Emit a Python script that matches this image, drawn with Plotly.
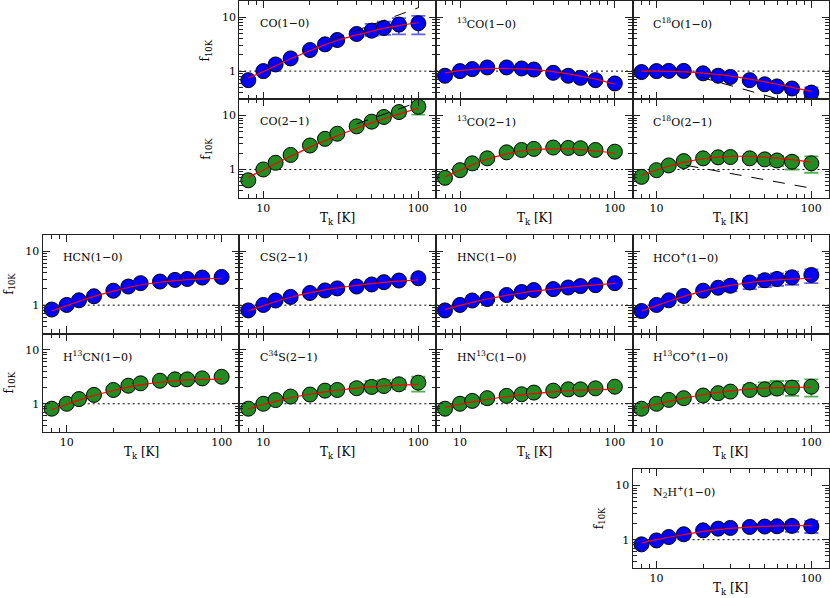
import plotly.graph_objects as go

W, H = 830, 598
T = [8, 10, 12, 15, 20, 25, 30, 40, 50, 60, 75, 100]

# ---- measured points (f_10K) ----
co10 = [0.68, 1.0, 1.33, 1.72, 2.46, 3.14, 3.78, 4.89, 5.63, 6.33, 7.3, 7.73]
co21 = [0.63, 1.0, 1.33, 1.86, 2.78, 3.7, 4.6, 6.3, 7.7, 9.4, 11.6, 14.5]
c13o10 = [0.82, 1.0, 1.09, 1.17, 1.17, 1.12, 1.07, 0.93, 0.82, 0.75, 0.68, 0.59]
c13o21 = [0.70, 0.97, 1.30, 1.61, 2.08, 2.30, 2.41, 2.55, 2.51, 2.48, 2.30, 2.14]
c18o10 = [0.96, 1.0, 1.01, 1.01, 0.91, 0.82, 0.78, 0.68, 0.57, 0.52, 0.475, 0.40]
c18o21 = [0.73, 0.97, 1.19, 1.43, 1.61, 1.68, 1.70, 1.61, 1.54, 1.47, 1.39, 1.30]
hcn10 = [0.83, 1.01, 1.23, 1.46, 1.85, 2.21, 2.55, 2.73, 2.93, 3.05, 3.23, 3.32]
cs21 = [0.80, 1.01, 1.22, 1.42, 1.68, 1.87, 2.04, 2.21, 2.41, 2.66, 2.85, 3.14]
hnc10 = [0.80, 1.01, 1.22, 1.30, 1.54, 1.75, 1.90, 1.98, 2.12, 2.25, 2.34, 2.55]
hcop10 = [0.78, 1.01, 1.23, 1.48, 1.85, 2.10, 2.28, 2.62, 2.89, 3.05, 3.27, 3.61]
h13cn10 = [0.81, 1.0, 1.22, 1.46, 1.80, 2.16, 2.39, 2.67, 2.83, 2.83, 2.95, 3.16]
c34s21 = [0.81, 1.0, 1.17, 1.36, 1.48, 1.75, 1.80, 1.94, 2.05, 2.13, 2.29, 2.46]
hn13c10 = [0.81, 1.0, 1.13, 1.27, 1.40, 1.50, 1.61, 1.75, 1.85, 1.85, 1.93, 2.07]
h13cop10 = [0.81, 1.0, 1.18, 1.27, 1.42, 1.57, 1.68, 1.80, 1.85, 1.91, 1.99, 2.07]
n2hp10 = [0.82, 0.97, 1.12, 1.26, 1.49, 1.60, 1.65, 1.72, 1.75, 1.77, 1.80, 1.77]

# ---- red fit curves ----
co10_fit = [0.75, 0.98, 1.25, 1.70, 2.40, 3.10, 3.70, 4.70, 5.50, 6.20, 7.00, 7.90]
co21_fit = [0.72, 0.98, 1.28, 1.75, 2.60, 3.40, 4.20, 5.80, 7.30, 8.70, 10.6, 13.8]
c13o10_fit = [0.93, 1.02, 1.08, 1.11, 1.12, 1.10, 1.07, 0.98, 0.89, 0.81, 0.71, 0.57]
c13o21_fit = [0.73, 0.97, 1.22, 1.55, 1.95, 2.20, 2.33, 2.42, 2.40, 2.33, 2.20, 2.00]
c18o10_fit = [1.0, 1.0, 0.99, 0.97, 0.92, 0.86, 0.81, 0.71, 0.63, 0.57, 0.50, 0.42]
c18o21_fit = [0.78, 0.98, 1.15, 1.35, 1.58, 1.70, 1.75, 1.75, 1.70, 1.63, 1.52, 1.36]
hcn10_fit = [0.78, 0.98, 1.18, 1.45, 1.82, 2.12, 2.36, 2.65, 2.83, 2.95, 3.06, 3.14]
cs21_fit = [0.78, 0.98, 1.17, 1.40, 1.70, 1.92, 2.08, 2.32, 2.50, 2.63, 2.78, 2.93]
hnc10_fit = [0.83, 0.99, 1.13, 1.30, 1.52, 1.68, 1.81, 1.99, 2.13, 2.24, 2.37, 2.52]
hcop10_fit = [0.78, 0.98, 1.18, 1.45, 1.82, 2.10, 2.32, 2.62, 2.81, 2.93, 3.04, 3.14]
h13cn10_fit = [0.78, 0.98, 1.17, 1.42, 1.76, 2.03, 2.23, 2.50, 2.66, 2.76, 2.83, 2.87]
c34s21_fit = [0.81, 0.97, 1.11, 1.29, 1.50, 1.66, 1.78, 1.95, 2.06, 2.14, 2.22, 2.29]
hn13c10_fit = [0.86, 0.98, 1.08, 1.20, 1.35, 1.46, 1.54, 1.66, 1.74, 1.79, 1.83, 1.85]
h13cop10_fit = [0.83, 0.98, 1.11, 1.27, 1.47, 1.62, 1.73, 1.87, 1.95, 1.99, 2.01, 2.02]
n2hp10_fit = [0.87, 1.0, 1.11, 1.24, 1.42, 1.54, 1.62, 1.71, 1.76, 1.79, 1.81, 1.82]

# ---- error bar bounds (None = not visible) ----
N7 = [None] * 7
co10_lo = N7 + [4.3, 4.5, 4.7, 4.8, 4.8]
co10_hi = N7 + [5.6, 7.5, 8.3, 9.6, 10.6]
co21_lo = N7 + [None, None, 8.1, 9.7, 10.4]
co21_hi = N7 + [None, None, 11.2, 13.5, 18.0]
c18o10_lo = N7 + [None, None, 0.47, 0.42, 0.33]
c18o10_hi = N7 + [None, None, 0.57, 0.53, 0.50]
c18o21_lo = N7 + [1.40, 1.30, 1.16, 1.00, 0.87]
c18o21_hi = N7 + [1.75, 1.70, 1.78, 1.68, 1.75]
hcop10_lo = [None] * 6 + [1.80, 1.98, 2.15, 2.28, 2.38, 2.55]
hcop10_hi = [None] * 6 + [2.85, 3.14, 3.61, 3.87, 4.15, 4.58]
c34s21_lo = N7 + [1.63, 1.68, 1.80, 1.85, 1.68]
c34s21_hi = N7 + [2.32, 2.64, 2.75, 2.83, 3.16]
h13cop10_lo = N7 + [1.57, 1.50, 1.50, 1.40, 1.36]
h13cop10_hi = N7 + [2.23, 2.49, 2.64, 2.64, 2.83]
n2hp10_lo = N7 + [1.54, 1.49, 1.45, 1.39, 1.33]
n2hp10_hi = N7 + [1.93, 1.99, 2.07, 2.13, 2.23]

# ---- dashed model lines ----
co10_dT, co10_dF = [28, 100], [3.9, 15.0]
co21_dT, co21_dF = [40, 100], [7.0, 17.8]
c18o10_dT, c18o10_dF = [14, 62], [1.0, 0.3]
c18o21_dT, c18o21_dF = [15.6, 100], [1.19, 0.45]

# ---- labels ----
lab = {
    "co10": "CO(1\u22120)", "co21": "CO(2\u22121)",
    "c13o10": "<sup>13</sup>CO(1\u22120)", "c13o21": "<sup>13</sup>CO(2\u22121)",
    "c18o10": "C<sup>18</sup>O(1\u22120)", "c18o21": "C<sup>18</sup>O(2\u22121)",
    "hcn10": "HCN(1\u22120)", "cs21": "CS(2\u22121)", "hnc10": "HNC(1\u22120)",
    "hcop10": "HCO<sup>+</sup>(1\u22120)",
    "h13cn10": "H<sup>13</sup>CN(1\u22120)", "c34s21": "C<sup>34</sup>S(2\u22121)",
    "hn13c10": "HN<sup>13</sup>C(1\u22120)", "h13cop10": "H<sup>13</sup>CO<sup>+</sup>(1\u22120)",
    "n2hp10": "N<sub>2</sub>H<sup>+</sup>(1\u22120)",
}

BLUE, GREEN = "#0000ff", "#228b22"
EBLUE, EGREEN = "#5f5fff", "#52b052"

panels = [
    ("co10", 1, 2, co10, co10_fit, co10_lo, co10_hi, BLUE, (co10_dT, co10_dF)),
    ("c13o10", 1, 3, c13o10, c13o10_fit, None, None, BLUE, None),
    ("c18o10", 1, 4, c18o10, c18o10_fit, c18o10_lo, c18o10_hi, BLUE, (c18o10_dT, c18o10_dF)),
    ("co21", 2, 2, co21, co21_fit, co21_lo, co21_hi, GREEN, (co21_dT, co21_dF)),
    ("c13o21", 2, 3, c13o21, c13o21_fit, None, None, GREEN, None),
    ("c18o21", 2, 4, c18o21, c18o21_fit, c18o21_lo, c18o21_hi, GREEN, (c18o21_dT, c18o21_dF)),
    ("hcn10", 3, 1, hcn10, hcn10_fit, None, None, BLUE, None),
    ("cs21", 3, 2, cs21, cs21_fit, None, None, BLUE, None),
    ("hnc10", 3, 3, hnc10, hnc10_fit, None, None, BLUE, None),
    ("hcop10", 3, 4, hcop10, hcop10_fit, hcop10_lo, hcop10_hi, BLUE, None),
    ("h13cn10", 4, 1, h13cn10, h13cn10_fit, None, None, GREEN, None),
    ("c34s21", 4, 2, c34s21, c34s21_fit, c34s21_lo, c34s21_hi, GREEN, None),
    ("hn13c10", 4, 3, hn13c10, hn13c10_fit, None, None, GREEN, None),
    ("h13cop10", 4, 4, h13cop10, h13cop10_fit, h13cop10_lo, h13cop10_hi, GREEN, None),
    ("n2hp10", 5, 4, n2hp10, n2hp10_fit, n2hp10_lo, n2hp10_hi, BLUE, None),
]

row_px = {1: (1, 99.3), 2: (99.3, 197.7), 3: (234.7, 333.5), 4: (333.5, 432), 5: (469.3, 568)}
col_px = {1: (42.7, 239.3), 2: (239.3, 436), 3: (436, 632.5), 4: (632.5, 829)}
ylab_panels = {(1, 2), (2, 2), (3, 1), (4, 1), (5, 4)}
xlab_rows = {2, 4, 5}

FONT = "DejaVu Serif"
AX = "#222222"
XR = [0.845, 2.114]
YR = [-0.523, 1.301]
x_major = [10, 100]
x_minor = [8, 9, 20, 30, 40, 50, 60, 70, 80, 90]
y_major = [1, 10]
y_minor = [0.3, 0.4, 0.5, 0.6, 0.7, 0.8, 0.9, 2, 3, 4, 5, 6, 7, 8, 9, 20]

fig = go.Figure()
layout = {}
shapes = []
annotations = []

for i, (key, r, c, vals, fit, lo, hi, color, dash) in enumerate(panels):
    sfx = "" if i == 0 else str(i + 1)
    xa, ya = "x" + sfx, "y" + sfx
    x0, x1 = col_px[c]
    y0, y1 = row_px[r]
    showx = r in xlab_rows
    showy = (r, c) in ylab_panels
    layout["xaxis" + sfx] = dict(
        type="log", range=XR, domain=[x0 / W, x1 / W], anchor=ya,
        showline=True, linecolor=AX, linewidth=1.3, mirror="ticks",
        ticks="inside", ticklen=7, tickwidth=1.2, tickcolor=AX,
        tickmode="array", tickvals=x_major, ticktext=["10", "100"],
        showticklabels=showx, showgrid=False, zeroline=False,
        tickfont=dict(family=FONT, size=11, color="black"),
        minor=dict(ticks="inside", ticklen=4, tickwidth=1, tickcolor=AX,
                   tickmode="array", tickvals=x_minor, showgrid=False),
    )
    layout["yaxis" + sfx] = dict(
        type="log", range=YR, domain=[1 - y1 / H, 1 - y0 / H], anchor=xa,
        showline=True, linecolor=AX, linewidth=1.3, mirror="ticks",
        ticks="inside", ticklen=7, tickwidth=1.2, tickcolor=AX,
        tickmode="array", tickvals=y_major, ticktext=["1", "10"],
        showticklabels=showy, showgrid=False, zeroline=False,
        tickfont=dict(family=FONT, size=11, color="black"),
        minor=dict(ticks="inside", ticklen=4, tickwidth=1, tickcolor=AX,
                   tickmode="array", tickvals=y_minor, showgrid=False),
    )
    # dotted unity line
    shapes.append(dict(type="line", xref=xa + " domain", x0=0, x1=1, yref=ya, y0=1, y1=1,
                       line=dict(color="black", width=1, dash="2px,3px"), layer="below"))
    # error bars + markers
    err = None
    if lo is not None:
        plus = [(h - v) if h is not None else None for h, v in zip(hi, vals)]
        minus = [(v - l) if l is not None else None for l, v in zip(lo, vals)]
        err = dict(type="data", symmetric=False, array=plus, arrayminus=minus,
                   color=EBLUE if color == BLUE else EGREEN, thickness=1.8, width=7)
    fig.add_trace(go.Scatter(
        x=T, y=vals, xaxis=xa, yaxis=ya, mode="markers",
        marker=dict(size=15, color=color, line=dict(color="black", width=1)),
        error_y=err, showlegend=False, cliponaxis=True))
    if dash is not None:
        fig.add_trace(go.Scatter(x=dash[0], y=dash[1], xaxis=xa, yaxis=ya, mode="lines",
                                 line=dict(color="black", width=1, dash="12px,10px"),
                                 showlegend=False))
    fig.add_trace(go.Scatter(x=T, y=fit, xaxis=xa, yaxis=ya, mode="lines",
                             line=dict(color="red", width=1.2, shape="spline"),
                             showlegend=False))
    # molecule label
    annotations.append(dict(text=lab[key], xref=xa + " domain", yref=ya + " domain",
                            x=0.095, y=0.77, xanchor="left", yanchor="middle",
                            showarrow=False, font=dict(family=FONT, size=11, color="black")))
    if showy:
        annotations.append(dict(text="f<sub>10K</sub>", xref="paper", yref="paper",
                                x=(x0 - 33) / W, y=1 - (y0 + y1) / 2 / H,
                                xanchor="center", yanchor="middle", textangle=-90,
                                showarrow=False, font=dict(family=FONT, size=12, color="black")))
    if showx:
        annotations.append(dict(text="T<sub>k</sub> [K]", xref="paper", yref="paper",
                                x=(x0 + x1) / 2 / W, y=1 - (y1 + 21) / H,
                                xanchor="center", yanchor="middle",
                                showarrow=False, font=dict(family=FONT, size=12, color="black")))

fig.update_layout(
    width=W, height=H, margin=dict(l=0, r=0, t=0, b=0),
    paper_bgcolor="white", plot_bgcolor="white",
    shapes=shapes, annotations=annotations, **layout,
)
fig.write_html("out.html", config={"displayModeBar": False},
               post_script="document.body.style.margin='0';document.body.style.overflow='hidden';")
